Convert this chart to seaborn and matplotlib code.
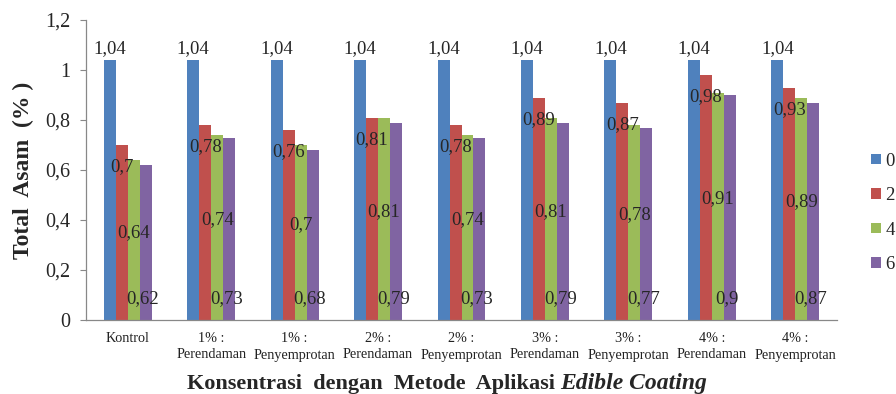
import pandas as pd
import matplotlib.pyplot as plt
import seaborn as sns

# Data
categories = ["Kontrol", "1% :\nPerendaman", "1% :\nPenyemprotan",
              "2% :\nPerendaman", "2% :\nPenyemprotan", "3% :\nPerendaman",
              "3% :\nPenyemprotan", "4% :\nPerendaman", "4% :\nPenyemprotan"]
days = ["0", "2", "4", "6"]
day0 = [1.04, 1.04, 1.04, 1.04, 1.04, 1.04, 1.04, 1.04, 1.04]
day2 = [0.70, 0.78, 0.76, 0.81, 0.78, 0.89, 0.87, 0.98, 0.93]
day4 = [0.64, 0.74, 0.70, 0.81, 0.74, 0.81, 0.78, 0.91, 0.89]
day6 = [0.62, 0.73, 0.68, 0.79, 0.73, 0.79, 0.77, 0.90, 0.87]
colors = ["#4F81BD", "#C0504D", "#9BBB59", "#8064A2"]
y_ticks = [0, 0.2, 0.4, 0.6, 0.8, 1.0, 1.2]

df = pd.DataFrame({
    "kategori": categories * 4,
    "hari": [d for d in days for _ in categories],
    "nilai": day0 + day2 + day4 + day6,
})

sns.set_style("white")
plt.rcParams["font.family"] = ["Liberation Serif", "DejaVu Serif"]


def fmt(v):
    return f"{v:g}".replace(".", ",")


fig = plt.figure(figsize=(8.96, 3.94), dpi=100)
ax = fig.add_axes([86 / 896, 74 / 394, 751 / 896, 300 / 394])

sns.barplot(data=df, x="kategori", y="nilai", hue="hari", hue_order=days,
            palette=colors, width=0.575, saturation=1, ax=ax,
            edgecolor="none", linewidth=0)

# data labels placed like the original (Excel) chart
for i, cont in enumerate(ax.containers):
    for bar in cont:
        v = bar.get_height()
        xc = bar.get_x() + bar.get_width() / 2
        if i == 0:
            ax.annotate(fmt(v), (xc, v), xytext=(0, 2), textcoords="offset points",
                        ha="center", va="bottom", fontsize=13.5)
        elif i == 1:
            ax.annotate(fmt(v), (xc, v - 0.088), ha="center", va="center", fontsize=13.5)
        elif i == 2:
            ax.annotate(fmt(v), (xc, v / 2 + 0.03), ha="center", va="center", fontsize=13.5)
        else:
            ax.annotate(fmt(v), (xc, 0.085), xytext=(-2, 0), textcoords="offset points",
                        ha="center", va="center", fontsize=13.5)

ax.set_ylim(0, 1.2)
ax.set_xlim(-0.5, len(categories) - 0.5)
ax.set_yticks(y_ticks)
ax.set_yticklabels([fmt(t) for t in y_ticks], fontsize=14.5)
ax.tick_params(axis="y", length=4.5, width=0.8, color="#888888",
               direction="out", left=True, pad=7)
ax.set_xticks(range(len(categories)))
ax.set_xticklabels(categories, fontsize=10.2, color="#222222", linespacing=1.3)
ax.tick_params(axis="x", length=0, pad=9)

for s in ["top", "right"]:
    ax.spines[s].set_visible(False)
for s in ["left", "bottom"]:
    ax.spines[s].set_color("#888888")
    ax.spines[s].set_linewidth(0.9)

ax.set_ylabel("Total  Asam  (% )", fontsize=17, fontweight="bold", labelpad=8)
ax.set_xlabel("")

# x title: plain bold part followed by bold italic "Edible Coating"
t1 = fig.text(187 / 896, 5 / 394, "Konsentrasi  dengan  Metode  Aplikasi ",
              fontsize=16, fontweight="bold", ha="left", va="baseline")
ax.annotate("Edible Coating", xy=(1, 0), xycoords=t1, xytext=(0, 0),
            textcoords="offset points", fontsize=17, fontweight="bold",
            style="italic", ha="left", va="bottom", annotation_clip=False)

handles, labels = ax.get_legend_handles_labels()
ax.legend(handles, labels, loc="center left", bbox_to_anchor=(1.023, 0.357),
          frameon=False, fontsize=13.5, handlelength=0.5, handleheight=0.5,
          handletextpad=0.25, labelspacing=0.93)

fig.savefig("out.png", dpi=100)
